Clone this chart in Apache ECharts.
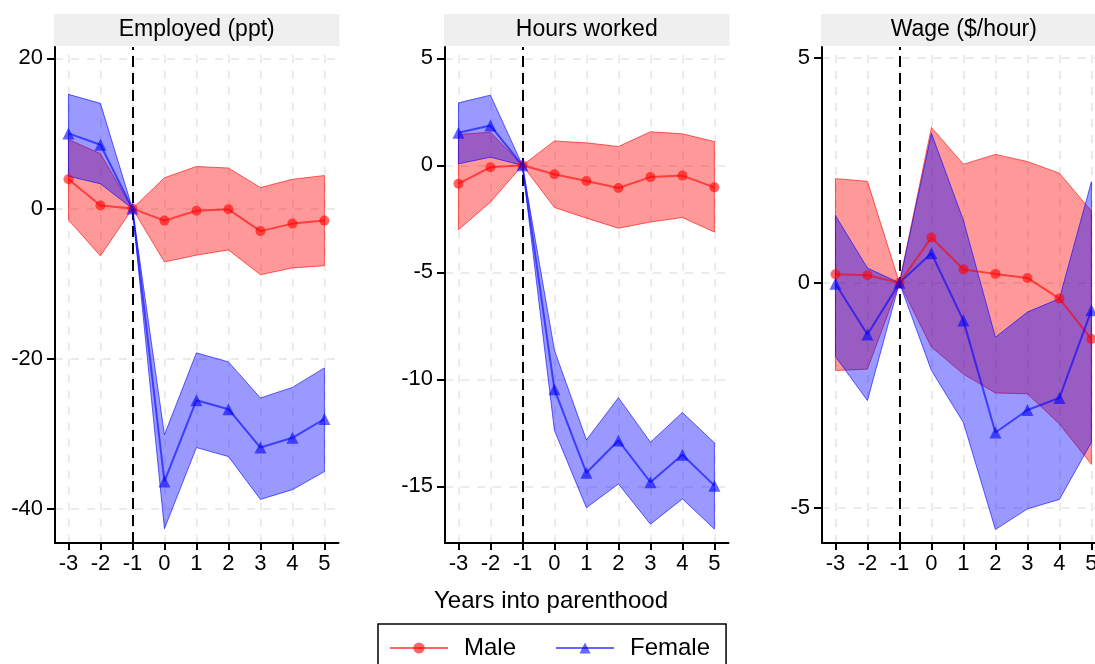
<!DOCTYPE html>
<html><head><meta charset="utf-8">
<script src="https://cdn.jsdelivr.net/npm/echarts@6/dist/echarts.min.js"></script>
<style>html,body{margin:0;padding:0;background:#fff;overflow:hidden}#c{width:1115px;height:664px}</style>
</head><body><div id="c"></div>
<script>
// ---- data ----
const years = [-3, -2, -1, 0, 1, 2, 3, 4, 5];
const panelTitles = ['Employed (ppt)', 'Hours worked', 'Wage ($/hour)'];
const xTicks = [-3, -2, -1, 0, 1, 2, 3, 4, 5];
const yTicksEmp = [-40, -20, 0, 20];
const yTicksHrs = [-15, -10, -5, 0, 5];
const yTicksWage = [-5, 0, 5];
const xTitle = 'Years into parenthood';
const seriesNames = ['Male', 'Female'];

const empMale     = [3.9, 0.4, 0, -1.6, -0.3, -0.1, -3.0, -2.0, -1.6];
const empMaleLo   = [-1.5, -6.3, 0, -7.1, -6.2, -5.5, -8.8, -7.9, -7.6];
const empMaleHi   = [9.2, 7.3, 0, 4.1, 5.6, 5.4, 2.8, 3.9, 4.4];
const empFemale   = [10.0, 8.5, 0, -36.3, -25.5, -26.7, -31.8, -30.5, -28.0];
const empFemaleLo = [4.3, 3.3, 0, -42.6, -31.8, -33.0, -38.7, -37.4, -35.0];
const empFemaleHi = [15.2, 14.0, 0, -30.1, -19.2, -20.4, -25.2, -23.8, -21.2];

const hrsMale     = [-0.86, -0.09, 0, -0.42, -0.73, -1.06, -0.55, -0.48, -1.03];
const hrsMaleLo   = [-3.01, -1.72, 0, -1.97, -2.47, -2.94, -2.65, -2.44, -3.12];
const hrsMaleHi   = [1.44, 1.55, 0, 1.14, 1.05, 0.88, 1.57, 1.47, 1.11];
const hrsFemale   = [1.52, 1.86, 0, -10.47, -14.37, -12.86, -14.81, -13.53, -14.97];
const hrsFemaleLo = [0.07, 0.38, 0, -12.39, -16.0, -14.89, -16.77, -15.59, -17.0];
const hrsFemaleHi = [2.92, 3.28, 0, -8.64, -12.83, -10.86, -12.94, -11.55, -12.97];

const wageMale     = [0.19, 0.17, 0, 1.01, 0.30, 0.20, 0.11, -0.35, -1.25];
const wageMaleLo   = [-1.95, -1.92, 0, -1.43, -2.03, -2.45, -2.47, -3.14, -4.04];
const wageMaleHi   = [2.32, 2.26, 0, 3.46, 2.64, 2.86, 2.70, 2.44, 1.6];
const wageFemale   = [-0.02, -1.15, 0, 0.66, -0.84, -3.33, -2.83, -2.56, -0.61];
const wageFemaleLo = [-1.64, -2.62, 0, -1.95, -3.11, -5.49, -5.03, -4.82, -3.55];
const wageFemaleHi = [1.5, 0.33, 0, 3.33, 1.39, -1.21, -0.65, -0.35, 2.25];

// ---- layout / style ----
const FONT = '"Liberation Sans", Arial, Helvetica, sans-serif';
const panels = [
  { left: 55,  yMin: -44.5, yMax: 21.5, yTicks: yTicksEmp,
    m: empMale, mLo: empMaleLo, mHi: empMaleHi, f: empFemale, fLo: empFemaleLo, fHi: empFemaleHi },
  { left: 445, yMin: -17.65, yMax: 5.53, yTicks: yTicksHrs,
    m: hrsMale, mLo: hrsMaleLo, mHi: hrsMaleHi, f: hrsFemale, fLo: hrsFemaleLo, fHi: hrsFemaleHi },
  { left: 822, yMin: -5.79, yMax: 5.25, yTicks: yTicksWage,
    m: wageMale, mLo: wageMaleLo, mHi: wageMaleHi, f: wageFemale, fLo: wageFemaleLo, fHi: wageFemaleHi }
];
const X_MIN = -3.42, X_MAX = 5.44;
const GRID_TOP = 47, GRID_H = 496, GRID_W = 283.5;
const RED_LINE = 'rgba(255,0,0,0.6)', RED_FILL = 'rgba(255,0,0,0.4)';
const BLUE_LINE = 'rgba(0,0,255,0.6)', BLUE_FILL = 'rgba(0,0,255,0.4)';

const grids = [], xAxes = [], yAxes = [], series = [], graphics = [];

function bandSeries(gi, lo, hi, stroke, fill) {
  const data = years.map((x, i) => [x, lo[i], hi[i]]);
  return {
    type: 'custom', xAxisIndex: gi, yAxisIndex: gi, z: 2, silent: true,
    data: data, encode: { x: 0, y: [1, 2] },
    renderItem: function (params, api) {
      if (params.dataIndex !== 0) return null;
      const pts = [];
      for (let i = 0; i < data.length; i++) pts.push(api.coord([data[i][0], data[i][2]]));
      for (let i = data.length - 1; i >= 0; i--) pts.push(api.coord([data[i][0], data[i][1]]));
      return { type: 'polygon', shape: { points: pts }, style: { fill: fill, stroke: stroke, lineWidth: 1 } };
    }
  };
}
function lineSeries(gi, name, vals, color, symbol, size) {
  return {
    type: 'line', name: name, xAxisIndex: gi, yAxisIndex: gi, z: 4,
    data: years.map((x, i) => [x, vals[i]]),
    symbol: symbol, symbolSize: size, showSymbol: true,
    lineStyle: { color: color, width: 2 },
    itemStyle: { color: color, borderWidth: 0 }
  };
}

panels.forEach((p, gi) => {
  grids.push({ left: p.left, top: GRID_TOP, width: GRID_W, height: GRID_H, containLabel: false });
  xAxes.push({
    type: 'value', gridIndex: gi, min: X_MIN, max: X_MAX,
    axisLine: { show: true, onZero: false, lineStyle: { color: '#000', width: 2 } },
    axisTick: { show: true, customValues: xTicks, length: 7, lineStyle: { color: '#000', width: 2 } },
    axisLabel: { customValues: xTicks, color: '#000', fontSize: 22, fontFamily: FONT, margin: 10 },
    splitLine: { show: false }
  });
  yAxes.push({
    type: 'value', gridIndex: gi, min: p.yMin, max: p.yMax,
    axisLine: { show: true, onZero: false, lineStyle: { color: '#000', width: 2 } },
    axisTick: { show: true, customValues: p.yTicks, length: 8, lineStyle: { color: '#000', width: 2 } },
    axisLabel: { customValues: p.yTicks, color: '#000', fontSize: 22, fontFamily: FONT, margin: 12 },
    splitLine: { show: false }
  });
  // light dashed grid lines at tick values (behind the bands)
  series.push({
    type: 'line', xAxisIndex: gi, yAxisIndex: gi, data: [], z: 0, silent: true,
    markLine: {
      z: 0, silent: true, symbol: 'none', animation: false, label: { show: false },
      lineStyle: { color: '#e6e6e6', type: [8, 8], width: 1.6 },
      data: xTicks.map(v => ({ xAxis: v })).concat(p.yTicks.map(v => ({ yAxis: v })))
    }
  });
  series.push(bandSeries(gi, p.mLo, p.mHi, RED_LINE, RED_FILL));
  series.push(bandSeries(gi, p.fLo, p.fHi, BLUE_LINE, BLUE_FILL));
  // reference line at -1
  series.push({
    type: 'line', xAxisIndex: gi, yAxisIndex: gi, data: [], z: 3, silent: true,
    markLine: {
      z: 3, silent: true, symbol: 'none', animation: false, label: { show: false },
      lineStyle: { color: '#000', type: [11, 6], width: 2 },
      data: [{ xAxis: -1 }]
    }
  });
  series.push(lineSeries(gi, seriesNames[0], p.m, RED_LINE, 'circle', 10));
  series.push(lineSeries(gi, seriesNames[1], p.f, BLUE_LINE, 'triangle', 12));

  // strip title
  graphics.push({
    type: 'rect', left: p.left - 1, top: 14, silent: true,
    shape: { width: GRID_W + 2, height: 32 }, style: { fill: '#efefef' }
  });
  graphics.push({
    type: 'text', silent: true,
    x: p.left + GRID_W / 2, y: 30,
    style: { text: panelTitles[gi], fill: '#000', font: '23px ' + FONT, textAlign: 'center', textVerticalAlign: 'middle' }
  });
});

graphics.push({
  type: 'text', silent: true, x: 551, y: 601,
  style: { text: xTitle, fill: '#000', font: '24px ' + FONT, textAlign: 'center', textVerticalAlign: 'middle' }
});

const chart = echarts.init(document.getElementById('c'), null, { renderer: 'canvas' });
chart.setOption({
  animation: false,
  backgroundColor: '#fff',
  grid: grids, xAxis: xAxes, yAxis: yAxes, series: series,
  graphic: graphics,
  legend: {
    data: seriesNames, left: 378, top: 624,
    orient: 'horizontal', itemWidth: 58, itemHeight: 14, itemGap: 39,
    padding: [12, 16, 12, 11], borderColor: '#000', borderWidth: 1.5, borderRadius: 0,
    textStyle: { color: '#000', fontSize: 24, fontFamily: FONT, padding: [0, 0, 0, 11] }
  }
});
</script></body></html>
